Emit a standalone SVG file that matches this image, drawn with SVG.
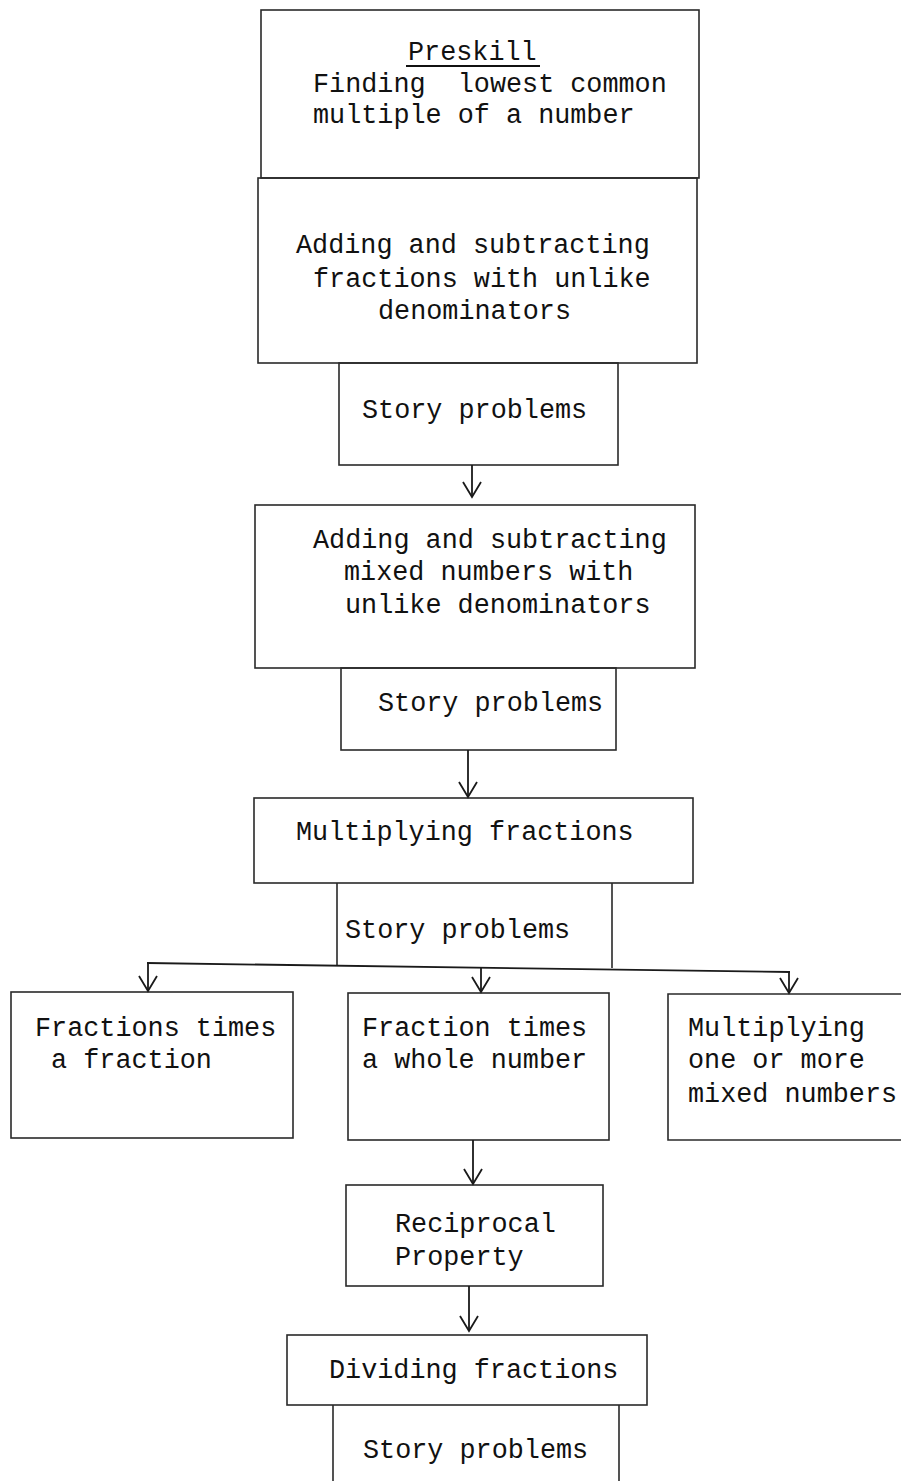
<svg xmlns="http://www.w3.org/2000/svg" width="901" height="1481" viewBox="0 0 901 1481">
<style>
.bx{fill:none;stroke:#2a2a2a;stroke-width:1.6}
.t{font-family:"Liberation Mono","Courier New",monospace;font-size:26.8px;fill:#111}
.c{font-family:"Liberation Mono","Courier New",monospace;font-size:26.8px;fill:#111}
.ln{fill:none;stroke:#1a1a1a;stroke-width:1.8}
</style>
<defs>
<marker id="ah" viewBox="-18 -12 20 24" refX="0" refY="0" markerWidth="20" markerHeight="24" markerUnits="userSpaceOnUse" orient="auto">
<path d="M-15,-9 L0,0 L-15,9" fill="none" stroke="#1a1a1a" stroke-width="1.8"/>
</marker>
</defs>
<rect width="901" height="1481" fill="#fff"/>

<g id="preskill">
<rect class="bx" x="261" y="10" width="438" height="168"/>
<text class="t" x="408" y="60">Preskill</text>
<line x1="406" y1="66" x2="540" y2="66" stroke="#111" stroke-width="2"/>
<text class="t" x="313" y="92" xml:space="preserve">Finding  lowest common</text>
<text class="t" x="313" y="123">multiple of a number</text>
</g>

<g id="add-sub-fractions">
<rect class="bx" x="258" y="178" width="439" height="185"/>
<text class="t" x="296" y="253">Adding and subtracting</text>
<text class="t" x="313" y="287">fractions with unlike</text>
<text class="t" x="378" y="319">denominators</text>
</g>

<g id="story1">
<rect class="bx" x="339" y="363" width="279" height="102"/>
<text class="t" x="362" y="418">Story problems</text>
</g>

<g id="add-sub-mixed">
<rect class="bx" x="255" y="505" width="440" height="163"/>
<text class="t" x="313" y="548">Adding and subtracting</text>
<text class="t" x="344" y="580">mixed numbers with</text>
<text class="t" x="345" y="613">unlike denominators</text>
</g>

<g id="story2">
<rect class="bx" x="341" y="668" width="275" height="82"/>
<text class="t" x="378" y="711">Story problems</text>
</g>

<g id="multiplying-fractions">
<rect class="bx" x="254" y="798" width="439" height="85"/>
<text class="c" x="296" y="840">Multiplying fractions</text>
</g>

<g id="story3">
<path class="bx" d="M337,883 V965 M612,883 V968"/>
<text class="c" x="345" y="938">Story problems</text>
</g>

<g id="fractions-times-fraction">
<rect class="bx" x="11" y="992" width="282" height="146"/>
<text class="c" x="35" y="1036">Fractions times</text>
<text class="c" x="35" y="1068" xml:space="preserve"> a fraction</text>
</g>

<g id="fraction-times-whole">
<rect class="bx" x="348" y="993" width="261" height="147"/>
<text class="c" x="362" y="1036">Fraction times</text>
<text class="c" x="362" y="1068">a whole number</text>
</g>

<g id="multiplying-mixed">
<path class="bx" d="M901,994 H668 V1140 H901"/>
<text class="c" x="688" y="1036">Multiplying</text>
<text class="c" x="688" y="1068">one or more</text>
<text class="c" x="688" y="1102">mixed numbers</text>
</g>

<g id="reciprocal">
<rect class="bx" x="346" y="1185" width="257" height="101"/>
<text class="t" x="395" y="1232">Reciprocal</text>
<text class="t" x="395" y="1265">Property</text>
</g>

<g id="dividing">
<rect class="bx" x="287" y="1335" width="360" height="70"/>
<text class="t" x="329" y="1378">Dividing fractions</text>
</g>

<g id="story4">
<path class="bx" d="M333,1405 V1481 M619,1405 V1481"/>
<text class="t" x="363" y="1458">Story problems</text>
</g>

<g id="connectors">
<line class="ln" x1="472" y1="465" x2="472" y2="497" marker-end="url(#ah)"/>
<line class="ln" x1="468" y1="750" x2="468" y2="797" marker-end="url(#ah)"/>
<path class="ln" d="M147,963 L790,972"/>
<line class="ln" x1="148" y1="963" x2="148" y2="991" marker-end="url(#ah)"/>
<line class="ln" x1="481" y1="968" x2="481" y2="992" marker-end="url(#ah)"/>
<line class="ln" x1="789" y1="972" x2="789" y2="993" marker-end="url(#ah)"/>
<line class="ln" x1="473" y1="1140" x2="473" y2="1184" marker-end="url(#ah)"/>
<line class="ln" x1="469" y1="1286" x2="469" y2="1331" marker-end="url(#ah)"/>
</g>
</svg>
